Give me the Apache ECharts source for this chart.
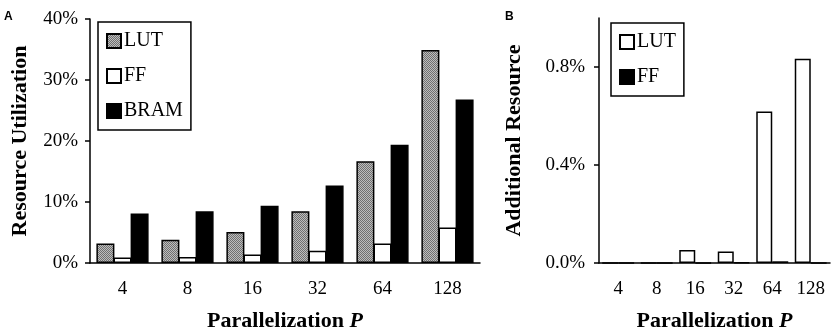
<!DOCTYPE html>
<html>
<head>
<meta charset="utf-8">
<script src="https://cdn.jsdelivr.net/npm/echarts@6/dist/echarts.min.js"></script>
<style>
  html, body { margin: 0; padding: 0; background: #fff; }
  #chart { width: 835px; height: 330px; }
</style>
</head>
<body>
<div id="chart"></div>
<script>
// categories (parallelization P)
const categories = ['4', '8', '16', '32', '64', '128'];

// panel A - resource utilization (%)
const lutA = [3.2, 3.8, 5.1, 8.5, 16.7, 34.9];
const ffA = [0.9, 1.0, 1.4, 2.0, 3.2, 5.8];
const bramA = [8.1, 8.5, 9.4, 12.7, 19.4, 26.8];
const ticksA = [0, 10, 20, 30, 40];

// panel B - additional resource (%)
const lutB = [0.0, 0.0, 0.053, 0.047, 0.618, 0.834];
const ffB = [0.001, 0.001, 0.001, 0.003, 0.007, 0.001];
const ticksB = [0, 0.4, 0.8];

const serif = 'Liberation Serif';

// grey dotted fill for the LUT bars
const makeHatch = () => {
    const c = document.createElement('canvas');
    c.width = 4; c.height = 4;
    const ctx = c.getContext('2d');
    ctx.fillStyle = '#bdbdbd';
    ctx.fillRect(0, 0, 4, 4);
    ctx.fillStyle = '#707070';
    for (let y = 0; y < 4; y++) {
        for (let x = 0; x < 4; x++) {
            if ((x + y) % 2 === 0) ctx.fillRect(x, y, 1, 1);
        }
    }
    return { image: c, repeat: 'repeat' };
};
const hatch = makeHatch();

const axisLine = { lineStyle: { color: '#000', width: 1.5 } };
const xLabel = { color: '#000', fontFamily: serif, fontSize: 19, margin: 17 };
const xName = {
    name: '{b|Parallelization }{i|P}',
    nameLocation: 'middle',
    nameGap: 47,
    nameTextStyle: {
        rich: {
            b: { fontFamily: serif, fontWeight: 'bold', fontSize: 22, color: '#000' },
            i: { fontFamily: serif, fontWeight: 'bold', fontStyle: 'italic', fontSize: 22, color: '#000' },
        },
    },
};
const yName = (text, gap) => ({
    name: text,
    nameLocation: 'middle',
    nameGap: gap,
    nameTextStyle: { fontFamily: serif, fontWeight: 'bold', fontSize: 22, color: '#000' },
});
const barBorder = { borderColor: '#000', borderWidth: 1.5 };
const legendBase = {
    orient: 'vertical',
    padding: [9, 8, 9, 8],
    itemGap: 15,
    itemWidth: 14, itemHeight: 14,
    icon: 'rect',
    borderColor: '#000', borderWidth: 1.5,
    formatter: n => n.trim(),
    textStyle: { fontFamily: serif, fontSize: 20, color: '#000', padding: [0, 0, 0, -2] },
};

const option = {
    animation: false,
    backgroundColor: '#fff',
    graphic: [
        { type: 'text', left: 4, top: 11, style: { text: 'A', font: 'bold 12px "Liberation Sans"', fill: '#000' } },
        { type: 'text', left: 505, top: 11, style: { text: 'B', font: 'bold 12px "Liberation Sans"', fill: '#000' } },
    ],
    legend: [
        { ...legendBase, data: ['LUT', 'FF', 'BRAM'], left: 98, top: 22 },
        { ...legendBase, data: ['LUT ', 'FF '], left: 611, top: 23 },
    ],
    grid: [
        { left: 90, top: 19, width: 390, height: 244, outerBoundsMode: 'none', containLabel: false },
        { left: 599, top: 18, width: 231, height: 245, outerBoundsMode: 'none', containLabel: false },
    ],
    xAxis: [
        {
            gridIndex: 0, type: 'category', data: categories,
            axisLine, axisTick: { show: false }, axisLabel: xLabel, ...xName,
        },
        {
            gridIndex: 1, type: 'category', data: categories,
            axisLine, axisTick: { show: false }, axisLabel: xLabel, ...xName,
        },
    ],
    yAxis: [
        {
            gridIndex: 0, type: 'value', min: 0, max: 40, interval: 10,
            axisLine: { show: true, ...axisLine },
            axisTick: { show: true, length: 5, lineStyle: { color: '#000', width: 1.5 }, customValues: ticksA },
            axisLabel: { color: '#000', fontFamily: serif, fontSize: 19, margin: 12, formatter: v => v + '%', customValues: ticksA },
            splitLine: { show: false },
            ...yName('Resource Utilization', 59),
        },
        {
            gridIndex: 1, type: 'value', min: 0, max: 1.0, interval: 0.4,
            axisLine: { show: true, ...axisLine },
            axisTick: { show: true, length: 5, lineStyle: { color: '#000', width: 1.5 }, customValues: ticksB },
            axisLabel: { color: '#000', fontFamily: serif, fontSize: 19, margin: 14, formatter: v => v.toFixed(1) + '%', customValues: ticksB },
            splitLine: { show: false },
            ...yName('Additional Resource', 74),
        },
    ],
    series: [
        { name: 'LUT', type: 'bar', xAxisIndex: 0, yAxisIndex: 0, data: lutA, barWidth: 18, barGap: '-5%',
          itemStyle: { color: hatch, ...barBorder } },
        { name: 'FF', type: 'bar', xAxisIndex: 0, yAxisIndex: 0, data: ffA, barWidth: 18, barGap: '-5%',
          itemStyle: { color: '#fff', ...barBorder } },
        { name: 'BRAM', type: 'bar', xAxisIndex: 0, yAxisIndex: 0, data: bramA, barWidth: 18, barGap: '-5%',
          itemStyle: { color: '#000', ...barBorder } },
        { name: 'LUT ', type: 'bar', xAxisIndex: 1, yAxisIndex: 1, data: lutB, barWidth: 16, barGap: '0%',
          itemStyle: { color: '#fff', ...barBorder } },
        { name: 'FF ', type: 'bar', xAxisIndex: 1, yAxisIndex: 1, data: ffB, barWidth: 16, barGap: '0%',
          itemStyle: { color: '#000', ...barBorder } },
    ],
};

const chart = echarts.init(document.getElementById('chart'));
chart.setOption(option);
</script>
</body>
</html>
